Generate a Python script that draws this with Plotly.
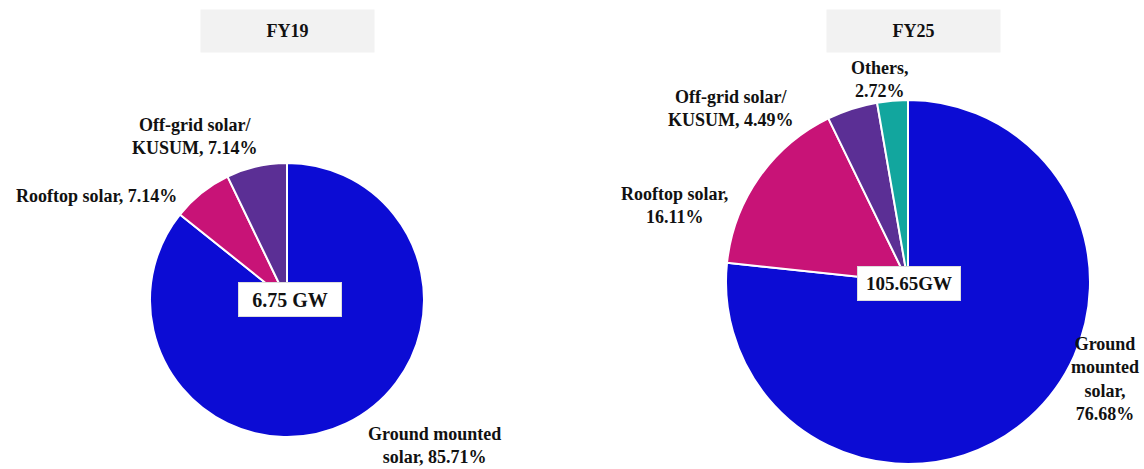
import plotly.graph_objects as go

W, H = 1144, 469

# Solar capacity mix by segment (% share)
fy19_labels = ["Ground mounted solar", "Rooftop solar", "Off-grid solar/KUSUM"]
fy19_share = [85.71, 7.14, 7.14]
fy19_total = "6.75 GW"

fy25_labels = ["Ground mounted solar", "Rooftop solar", "Off-grid solar/KUSUM", "Others"]
fy25_share = [76.68, 16.11, 4.49, 2.72]
fy25_total = "105.65GW"

years = ["FY19", "FY25"]

colors = ["#0C0CD4", "#C81377", "#5B2F95", "#12A69E"]
serif = "Liberation Serif, Times New Roman, serif"


def px(x):
    return x / W


def py(y):
    return 1 - y / H


fig = go.Figure()

fig.add_trace(go.Pie(
    labels=fy19_labels, values=fy19_share, sort=False, direction="clockwise",
    rotation=0, textinfo="none", showlegend=False,
    marker=dict(colors=colors[:3], line=dict(color="white", width=2)),
    domain=dict(x=[px(150), px(424)], y=[py(437), py(163)]),
))
fig.add_trace(go.Pie(
    labels=fy25_labels, values=fy25_share, sort=False, direction="clockwise",
    rotation=0, textinfo="none", showlegend=False,
    marker=dict(colors=colors, line=dict(color="white", width=2)),
    domain=dict(x=[px(726), px(1090)], y=[py(464), py(100)]),
))

font = dict(family=serif, size=18, color="#111111", weight="bold")


def label(text, x, y, align="center"):
    fig.add_annotation(text=text, x=px(x), y=py(y), xref="paper", yref="paper",
                       showarrow=False, font=font, align=align,
                       xanchor="center", yanchor="middle")


# Segment labels, FY19
label("Off-grid solar/<br>KUSUM, " + f"{fy19_share[2]:.2f}%", 195, 136)
label("Rooftop solar, " + f"{fy19_share[1]:.2f}%", 96, 196)
label("Ground mounted<br>solar, " + f"{fy19_share[0]:.2f}%", 434, 445)

# Segment labels, FY25
label("Others,<br>" + f"{fy25_share[3]:.2f}%", 880, 79)
label("Off-grid solar/<br>KUSUM, " + f"{fy25_share[2]:.2f}%", 731, 108)
label("Rooftop solar,<br>" + f"{fy25_share[1]:.2f}%", 674, 206)
label("Ground<br>mounted<br>solar,<br>" + f"{fy25_share[0]:.2f}%", 1105, 379)

# Year headers
for yr, cx in zip(years, [287.5, 913.5]):
    fig.add_annotation(text=yr, x=px(cx), y=py(31), xref="paper", yref="paper",
                       showarrow=False, font=font, width=173, height=42,
                       bgcolor="#F2F2F2", borderpad=0, xanchor="center", yanchor="middle")

# Total capacity boxes
for txt, cx, cy, fs in [(fy19_total, 290, 299.5, 20), (fy25_total, 909, 283, 19)]:
    fig.add_annotation(text=txt, x=px(cx), y=py(cy), xref="paper", yref="paper",
                       showarrow=False, font=dict(family=serif, size=fs, color="#111111", weight="bold"),
                       width=102, height=33, bgcolor="white", bordercolor="#DDDDDD",
                       borderwidth=1, borderpad=0, xanchor="center", yanchor="middle")

fig.update_layout(
    width=W, height=H, margin=dict(l=0, r=0, t=0, b=0),
    paper_bgcolor="white", plot_bgcolor="white",
)

fig.write_html("out.html")
